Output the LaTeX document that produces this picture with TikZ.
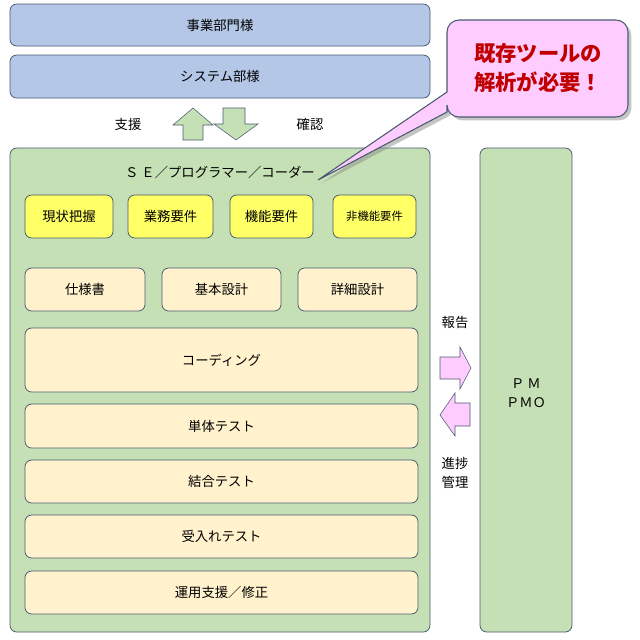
\documentclass[tikz,border=0pt]{standalone}
\usepackage{fontspec}
\setmainfont{Noto Sans CJK JP}
\usetikzlibrary{shadows}
\definecolor{bl}{HTML}{B4C7E7}
\definecolor{gr}{HTML}{C5E0B4}
\definecolor{ye}{HTML}{FFFF66}
\definecolor{be}{HTML}{FFF2CC}
\definecolor{pk}{HTML}{FFCCFF}
\definecolor{ed}{HTML}{4A5A70}
\definecolor{rd}{HTML}{C00000}
\begin{document}
\begin{tikzpicture}[x=0.75pt,y=-0.75pt,
 bx/.style={draw=ed,rounded corners=5pt,line width=0.6pt,font=\fontsize{10}{12}\selectfont},
 lbl/.style={font=\fontsize{10}{12}\selectfont}]
\useasboundingbox (0,0) rectangle (640,640);
\path[bx,fill=bl] (10,4) rectangle (430,46) node[midway] (a) {事業部門様};
\path[bx,fill=bl] (10,55) rectangle (430,98) node[midway] (b) {システム部様};
\node[lbl] (s1) at (128,124) {支援};
\node[lbl] (s2) at (310,124) {確認};
\draw[ed,fill=gr] (193,108)--(213,125)--(203,125)--(203,140)--(183,140)--(183,125)--(173,125)--cycle;
\draw[ed,fill=gr] (223,108)--(245,108)--(245,124)--(258,124)--(236,140)--(214,124)--(223,124)--cycle;
\path[bx,fill=gr] (10,148) rectangle (430,632);
\node[lbl] (se) at (220,172) {Ｓ Ｅ／プログラマー／コーダー};
\foreach \x/\y/\t in {25/113/現状把握,128/213/業務要件,230/313/機能要件}
  \path[bx,fill=ye] (\x,195) rectangle (\y,238) node[midway] {\t};
\path[bx,fill=ye] (333,195) rectangle (416,238) node[midway,font=\fontsize{8.5}{10}\selectfont] {非機能要件};
\foreach \x/\y/\t in {25/145/仕様書,162/281/基本設計,298/417/詳細設計}
  \path[bx,fill=be] (\x,268) rectangle (\y,311) node[midway] {\t};
\foreach \a/\b/\t in {328/392/コーディング,404/448/単体テスト,460/503/結合テスト,515/558/受入れテスト,571/614/運用支援／修正}
  \path[bx,fill=be] (25,\a) rectangle (418,\b) node[midway] {\t};
\path[bx,fill=gr] (480,148) rectangle (572,632);
\node[lbl,align=center] (pm) at (526,393) {Ｐ Ｍ\\[2pt]ＰＭＯ};
\node[lbl] (r1) at (455,322) {報告};
\node[lbl,align=center] (r2) at (455,473) {進捗\\[2pt]管理};
\draw[ed,fill=pk] (440,357)--(460,357)--(460,347)--(471,368)--(460,389)--(460,379)--(440,379)--cycle;
\draw[ed,fill=pk] (470,403)--(455,403)--(455,393)--(440,415)--(455,436)--(455,426)--(470,426)--cycle;
\draw[ed,fill=pk,line width=0.8pt,drop shadow={shadow xshift=2.5pt,shadow yshift=-2.5pt,fill=black!45}]
  (447,70) [rounded corners=9pt] -- (447,20) -- (628,20) -- (628,117) -- (447,117) [sharp corners] -- (447,112) -- (318,180) -- (447,92) -- cycle;
\node[font=\bfseries\fontsize{16}{22}\selectfont,text=rd,align=center] (c) at (538,68) {既存ツールの\\解析が必要！};
\end{tikzpicture}
\end{document}
